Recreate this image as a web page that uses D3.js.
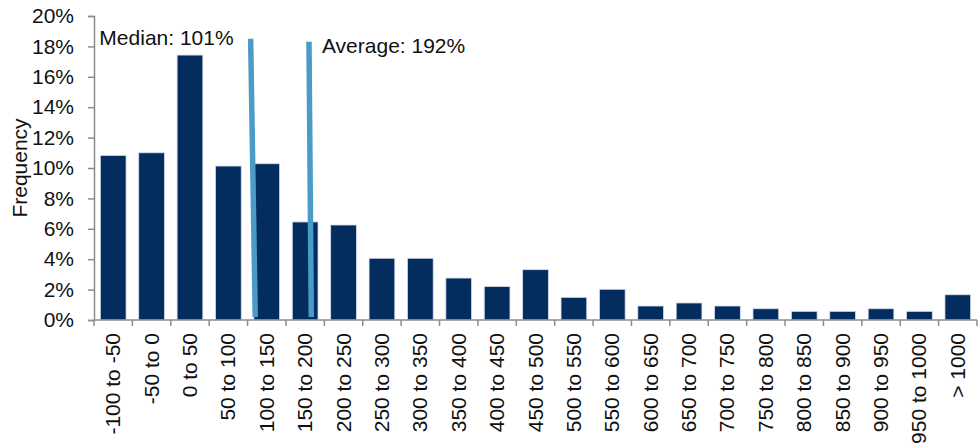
<!DOCTYPE html>
<html>
<head>
<meta charset="utf-8">
<script src="https://cdn.jsdelivr.net/npm/d3@7"></script>
<style>
  body { margin: 0; background: #fff; }
  svg text { font-family: Arial, "Liberation Sans", sans-serif; fill: #111; }
</style>
</head>
<body>
<svg width="980" height="445"></svg>
<script>
var categories = ["-100 to -50","-50 to 0","0 to 50","50 to 100","100 to 150","150 to 200",
  "200 to 250","250 to 300","300 to 350","350 to 400","400 to 450","450 to 500","500 to 550",
  "550 to 600","600 to 650","650 to 700","700 to 750","750 to 800","800 to 850","850 to 900",
  "900 to 950","950 to 1000","> 1000"];
var frequency = [10.83, 11.0, 17.43, 10.13, 10.28, 6.45, 6.25, 4.06, 4.06, 2.76, 2.2, 3.31, 1.49,
  2.02, 0.92, 1.12, 0.92, 0.74, 0.57, 0.57, 0.74, 0.57, 1.66];
var yTicks = [0, 2, 4, 6, 8, 10, 12, 14, 16, 18, 20];

// marker lines, as drawn (in value units of the x range) -- lines are slightly slanted in original
var markerLabels = ["Median: 101%", "Average: 192%"];
var markerTopX = [104, 180];
var markerBottomX = [110, 183];
var markerTopY = [18.5, 18.3];
var markerBottomY = [0.2, 0.2];
var markerLabelY = [18.1, 17.57];

var svg = d3.select("svg"),
    margin = {top: 16, right: 3, bottom: 125, left: 94},
    width = +svg.attr("width") - margin.left - margin.right,
    height = +svg.attr("height") - margin.top - margin.bottom;

var fontSize = 21;

var g = svg.append("g").attr("transform", "translate(" + margin.left + "," + margin.top + ")");

var x = d3.scaleBand().domain(categories).range([0, width]).paddingInner(0.33).paddingOuter(0.165);
var xb = d3.scaleBand().domain(categories).range([0, width]).padding(0);
var xv = d3.scaleLinear().domain([-100, 1050]).range([0, width]);
var y = d3.scaleLinear().domain([0, 20]).range([height, 0]);

var axisColor = "#8c8c8c";

// bars
g.selectAll(".bar")
  .data(frequency)
  .enter().append("rect")
  .attr("class", "bar")
  .attr("x", function(d, i) { return x(categories[i]); })
  .attr("width", x.bandwidth())
  .attr("y", function(d) { return y(d); })
  .attr("height", function(d) { return height - y(d); })
  .attr("fill", "#022d5e")
  .attr("stroke", "#d6dde7")
  .attr("stroke-width", 0.8);

// y axis
var yAxis = g.append("g")
  .call(d3.axisLeft(y).tickValues(yTicks).tickSize(6).tickPadding(14)
    .tickFormat(function(d) { return d + "%"; }));
yAxis.select(".domain").attr("stroke", axisColor).attr("stroke-width", 1.5);
yAxis.selectAll(".tick line").attr("stroke", axisColor).attr("stroke-width", 1.5);
yAxis.selectAll("text").attr("font-size", fontSize).attr("fill", "#111")
  .attr("font-family", "Arial, 'Liberation Sans', sans-serif");

// x axis, ticks at band boundaries
var xAxis = g.append("g").attr("transform", "translate(0," + height + ")");
xAxis.append("line")
  .attr("x1", 0).attr("x2", width).attr("y1", 0).attr("y2", 0)
  .attr("stroke", axisColor).attr("stroke-width", 1.5);
xAxis.selectAll(".xtick")
  .data(categories.concat(["end"]))
  .enter().append("line")
  .attr("class", "xtick")
  .attr("x1", function(d, i) { return i < categories.length ? xb(d) : width; })
  .attr("x2", function(d, i) { return i < categories.length ? xb(d) : width; })
  .attr("y1", 0).attr("y2", 6)
  .attr("stroke", axisColor).attr("stroke-width", 1.5);
xAxis.selectAll(".xlabel")
  .data(categories)
  .enter().append("text")
  .attr("class", "xlabel")
  .attr("transform", function(d) {
    return "translate(" + (x(d) + x.bandwidth() / 2 + 7) + ",13) rotate(-90)"; })
  .attr("text-anchor", "end")
  .attr("font-size", fontSize)
  .text(function(d) { return d; });

// y label
svg.append("text")
  .attr("transform", "translate(27," + (margin.top + height / 2) + ") rotate(-90)")
  .attr("text-anchor", "middle")
  .attr("font-size", fontSize)
  .text("Frequency");

// marker lines
g.selectAll(".marker")
  .data(markerLabels)
  .enter().append("line")
  .attr("class", "marker")
  .attr("x1", function(d, i) { return xv(markerTopX[i]); })
  .attr("x2", function(d, i) { return xv(markerBottomX[i]); })
  .attr("y1", function(d, i) { return y(markerTopY[i]); })
  .attr("y2", function(d, i) { return y(markerBottomY[i]); })
  .attr("stroke", "#4a9bc8")
  .attr("stroke-width", 5.5);

g.selectAll(".mlabel")
  .data(markerLabels)
  .enter().append("text")
  .attr("class", "mlabel")
  .attr("x", function(d, i) { return i === 0 ? xv(markerTopX[i]) - 17 : xv(markerTopX[i]) + 13; })
  .attr("y", function(d, i) { return y(markerLabelY[i]); })
  .attr("text-anchor", function(d, i) { return i === 0 ? "end" : "start"; })
  .attr("font-size", fontSize)
  .text(function(d) { return d; });
</script>
</body>
</html>
